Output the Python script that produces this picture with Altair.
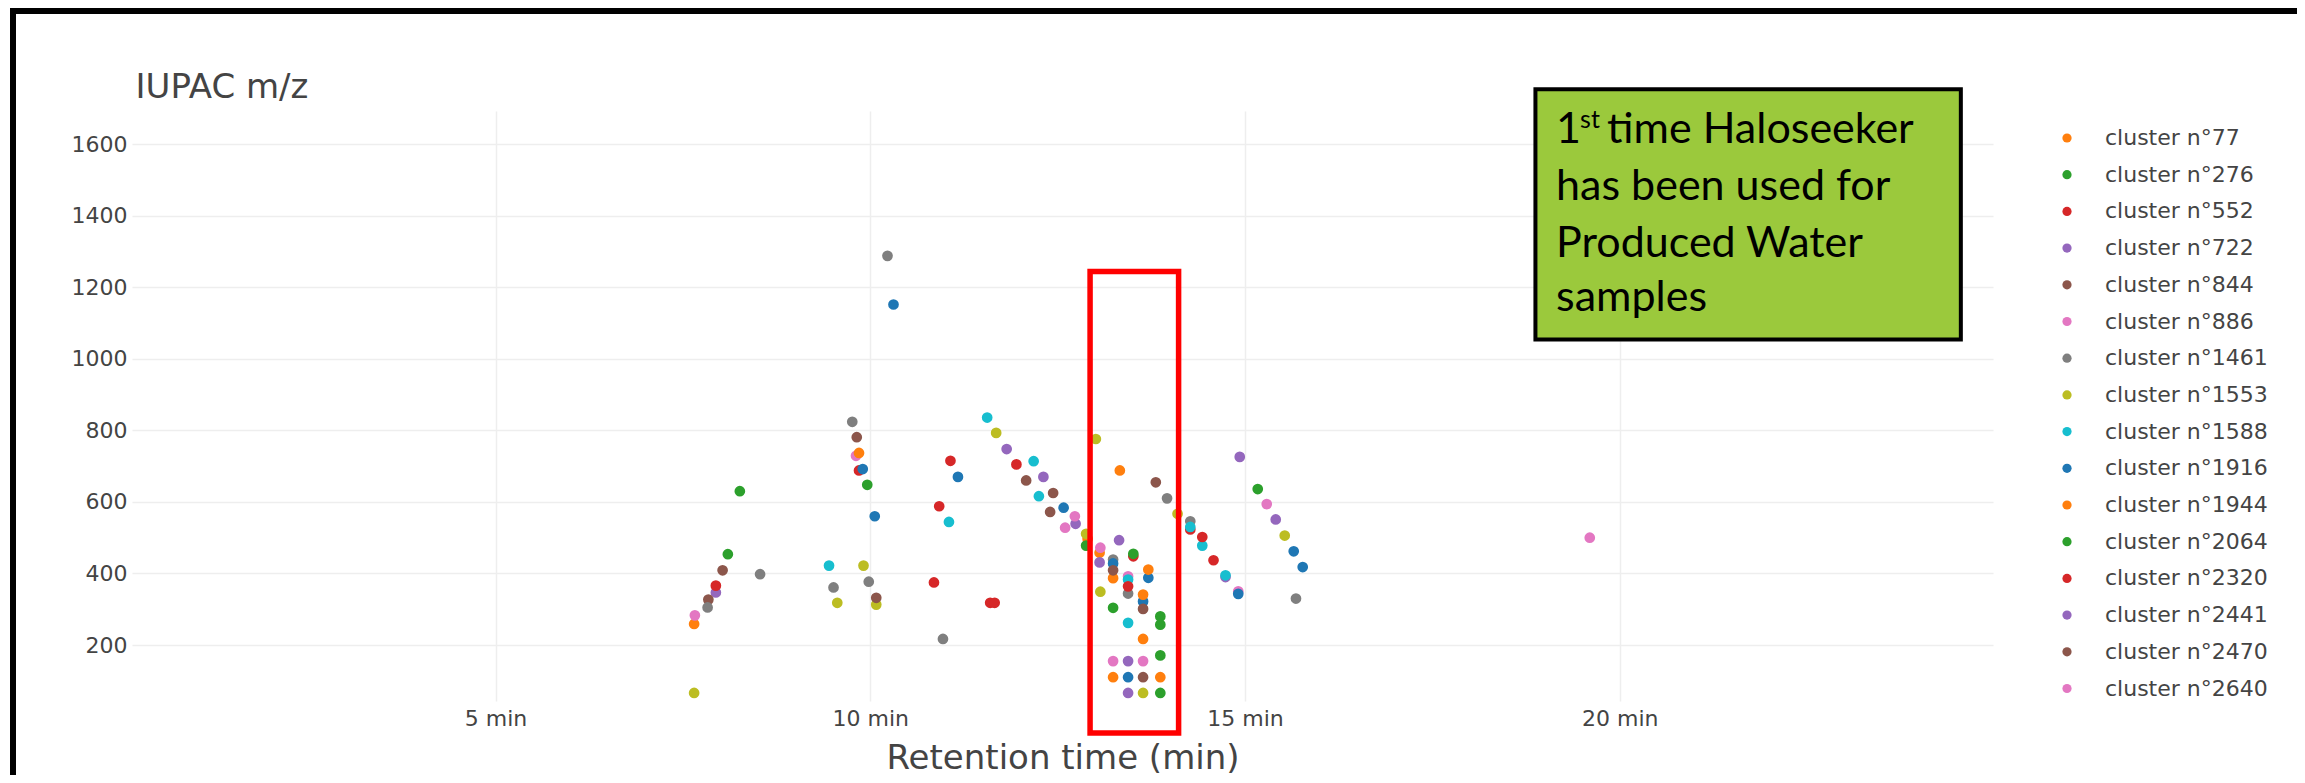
import altair as alt
import pandas as pd

# ---------------- data ----------------
CLUSTERS = [
    "cluster n°77", "cluster n°276", "cluster n°552", "cluster n°722",
    "cluster n°844", "cluster n°886", "cluster n°1461", "cluster n°1553",
    "cluster n°1588", "cluster n°1916", "cluster n°1944", "cluster n°2064",
    "cluster n°2320", "cluster n°2441", "cluster n°2470", "cluster n°2640",
]
COLORS = [
    "#ff7f0e", "#2ca02c", "#d62728", "#9467bd", "#8c564b", "#e377c2",
    "#7f7f7f", "#bcbd22", "#17becf", "#1f77b4", "#ff7f0e", "#2ca02c",
    "#d62728", "#9467bd", "#8c564b", "#e377c2",
]

RT_77 = [7.65, 12.90, 13.33, 13.64, 13.87]
MZ_77 = [259, 497, 688, 217, 110]
RT_276 = [8.10, 8.26, 9.96, 13.24, 13.87, 15.17]
MZ_276 = [454, 630, 648, 304, 66, 636]
RT_552 = [9.85, 10.92, 11.07, 11.95, 13.51, 14.27, 14.58]
MZ_552 = [688, 588, 715, 705, 448, 523, 437]
RT_722 = [7.94, 11.82, 12.31, 14.74, 14.93, 15.41]
MZ_722 = [347, 748, 670, 390, 726, 551]
RT_844 = [7.84, 8.03, 9.82, 12.08, 12.44, 13.81]
MZ_844 = [327, 409, 781, 660, 625, 655]
RT_886 = [7.66, 9.81, 12.60, 13.24, 13.44, 14.91, 15.29]
MZ_886 = [283, 729, 528, 155, 392, 350, 594]
RT_1461 = [7.83, 8.53, 9.51, 9.76, 9.98, 10.23, 10.97, 13.24, 13.44, 13.96, 14.27, 15.68]
MZ_1461 = [305, 398, 361, 824, 377, 1288, 217, 439, 344, 610, 546, 330]
RT_1553 = [7.65, 9.56, 9.91, 10.08, 11.68, 12.88, 13.01, 13.07, 13.64, 14.10, 15.53]
MZ_1553 = [66, 318, 422, 313, 793, 511, 776, 349, 66, 567, 506]
RT_1588 = [9.45, 11.05, 11.56, 12.18, 12.25, 13.44, 13.44, 14.27, 14.43, 14.74]
MZ_1588 = [422, 544, 836, 714, 616, 383, 262, 530, 478, 395]
RT_1916 = [9.90, 10.06, 10.31, 11.17, 12.58, 13.24, 13.44, 13.64, 13.71, 14.91, 15.65, 15.77]
MZ_1916 = [692, 560, 1152, 670, 584, 428, 110, 322, 388, 343, 462, 418]
RT_1944 = [9.85, 13.06, 13.24, 13.24, 13.64, 13.71]
MZ_1944 = [737, 458, 387, 110, 341, 411]
RT_2064 = [12.88, 13.51, 13.87, 13.87, 13.87]
MZ_2064 = [478, 455, 280, 257, 171]
RT_2320 = [7.94, 10.85, 11.60, 11.66, 13.44, 14.43]
MZ_2320 = [366, 375, 318, 318, 364, 502]
RT_2441 = [12.74, 13.06, 13.32, 13.44, 13.44]
MZ_2441 = [539, 431, 493, 155, 66]
RT_2470 = [10.08, 12.40, 13.24, 13.64, 13.64]
MZ_2470 = [332, 572, 409, 301, 110]
RT_2640 = [12.73, 13.07, 13.64, 19.60]
MZ_2640 = [560, 472, 155, 500]

X_TICKS = [5, 10, 15, 20]
Y_TICKS = [200, 400, 600, 800, 1000, 1200, 1400, 1600]

# annotation: highlighted retention window (red box) and note box
HIGHLIGHT_RT = [12.933, 14.114]
HIGHLIGHT_MZ = [1244, -46]
NOTE_RT = [18.875, 24.551]
NOTE_MZ = [1754, 1054]
NOTE_TEXT_RT = 19.151
NOTE_LINES = ["has been used for", "Produced Water", "samples"]
NOTE_LINE_MZ = [1445, 1286, 1133]
NOTE_FIRST_MZ = 1603

X_DOMAIN = [0.15, 24.98]
Y_DOMAIN = [43.5, 1693]

# ---------------- build table ----------------
series = [
    (RT_77, MZ_77), (RT_276, MZ_276), (RT_552, MZ_552), (RT_722, MZ_722),
    (RT_844, MZ_844), (RT_886, MZ_886), (RT_1461, MZ_1461), (RT_1553, MZ_1553),
    (RT_1588, MZ_1588), (RT_1916, MZ_1916), (RT_1944, MZ_1944), (RT_2064, MZ_2064),
    (RT_2320, MZ_2320), (RT_2441, MZ_2441), (RT_2470, MZ_2470), (RT_2640, MZ_2640),
]
rows = []
for name, (rts, mzs) in zip(CLUSTERS, series):
    for t, m in zip(rts, mzs):
        rows.append({"t": t, "mz": m, "cluster": name})
df = pd.DataFrame(rows)

FONT = "DejaVu Sans"
GREY = "#444444"

xscale = alt.Scale(domain=X_DOMAIN, nice=False, zero=False)
yscale = alt.Scale(domain=Y_DOMAIN, nice=False, zero=False)

points = alt.Chart(df).mark_circle(size=115, opacity=1).encode(
    x=alt.X("t:Q", scale=xscale, axis=alt.Axis(
        values=X_TICKS, labelExpr="datum.value + ' min'", grid=True,
        gridColor="#eeeeee", gridWidth=1.5, domain=False, ticks=False,
        labelFontSize=22, labelColor=GREY, labelFont=FONT, labelPadding=7,
        title="Retention time (min)", titleFontSize=34, titleFont=FONT,
        titleFontWeight="normal", titleColor=GREY, titleY=67,
        titleBaseline="alphabetic")),
    y=alt.Y("mz:Q", scale=yscale, axis=alt.Axis(
        values=Y_TICKS, format="d", grid=True, gridColor="#eeeeee",
        gridWidth=1.5, domain=False, ticks=False, labelFontSize=22,
        labelColor=GREY, labelFont=FONT, labelPadding=5, title="IUPAC m/z",
        titleFontSize=34, titleFont=FONT, titleFontWeight="normal",
        titleColor=GREY, titleAngle=0, titleAlign="left",
        titleBaseline="alphabetic", titleX=3, titleY=-14)),
    color=alt.Color("cluster:N", scale=alt.Scale(domain=CLUSTERS, range=COLORS),
                    sort=CLUSTERS,
                    legend=alt.Legend(
                        title=None, orient="none", legendX=1924, legendY=16,
                        labelFontSize=22, labelFont=FONT, labelColor=GREY,
                        labelLimit=400, symbolType="circle", symbolSize=85,
                        symbolStrokeWidth=0, labelOffset=27, rowPadding=14.7,
                        padding=0)),
)

hl_df = pd.DataFrame({"t": [HIGHLIGHT_RT[0]], "t2": [HIGHLIGHT_RT[1]],
                      "mz": [HIGHLIGHT_MZ[0]], "mz2": [HIGHLIGHT_MZ[1]]})
highlight = alt.Chart(hl_df).mark_rect(filled=False, stroke="#ff0000",
                                       strokeWidth=5.5).encode(
    x=alt.X("t:Q", scale=xscale), x2="t2:Q",
    y=alt.Y("mz:Q", scale=yscale), y2="mz2:Q")

note_df = pd.DataFrame({"t": [NOTE_RT[0]], "t2": [NOTE_RT[1]],
                        "mz": [NOTE_MZ[0]], "mz2": [NOTE_MZ[1]]})
note_box = alt.Chart(note_df).mark_rect(fill="#9bc93c", stroke="#000000",
                                        strokeWidth=4).encode(
    x=alt.X("t:Q", scale=xscale), x2="t2:Q",
    y=alt.Y("mz:Q", scale=yscale), y2="mz2:Q")

NOTE_FONT = "Lato"
NOTE_SIZE = 43
first_df = pd.DataFrame({"t": [NOTE_TEXT_RT], "mz": [NOTE_FIRST_MZ]})
txt_1 = alt.Chart(first_df).mark_text(
    text="1", align="left", baseline="alphabetic", font=NOTE_FONT,
    fontSize=NOTE_SIZE, color="black").encode(
    x=alt.X("t:Q", scale=xscale), y=alt.Y("mz:Q", scale=yscale))
txt_st = alt.Chart(first_df).mark_text(
    text="st", align="left", baseline="alphabetic", font=NOTE_FONT,
    fontSize=25, color="black", dx=24, dy=-15).encode(
    x=alt.X("t:Q", scale=xscale), y=alt.Y("mz:Q", scale=yscale))
txt_rest = alt.Chart(first_df).mark_text(
    text="time Haloseeker", align="left", baseline="alphabetic",
    font=NOTE_FONT, fontSize=NOTE_SIZE, color="black", dx=51).encode(
    x=alt.X("t:Q", scale=xscale), y=alt.Y("mz:Q", scale=yscale))

lines_df = pd.DataFrame({"t": [NOTE_TEXT_RT] * len(NOTE_LINES),
                         "mz": NOTE_LINE_MZ, "line": NOTE_LINES})
txt_lines = alt.Chart(lines_df).mark_text(
    align="left", baseline="alphabetic", font=NOTE_FONT,
    fontSize=NOTE_SIZE, color="black").encode(
    x=alt.X("t:Q", scale=xscale), y=alt.Y("mz:Q", scale=yscale),
    text="line:N")

# slide frame (black border, top and left)
frame_left = alt.Chart(first_df).mark_rule(color="black", strokeWidth=6).encode(
    x=alt.value(-119), y=alt.value(-103), y2=alt.value(700))
frame_top = alt.Chart(first_df).mark_rule(color="black", strokeWidth=6).encode(
    x=alt.value(-122), x2=alt.value(2200), y=alt.value(-100))

chart = alt.layer(
    points, highlight, note_box, txt_1, txt_st, txt_rest, txt_lines,
    frame_left, frame_top,
).properties(
    width=1861, height=590,
    autosize=alt.AutoSizeParams(type="none"),
    padding={"left": 124, "top": 103, "right": 304, "bottom": 74},
    background="white",
).configure_view(stroke=None)

chart.save("out.html", embed_options={"renderer": "svg", "actions": False})
